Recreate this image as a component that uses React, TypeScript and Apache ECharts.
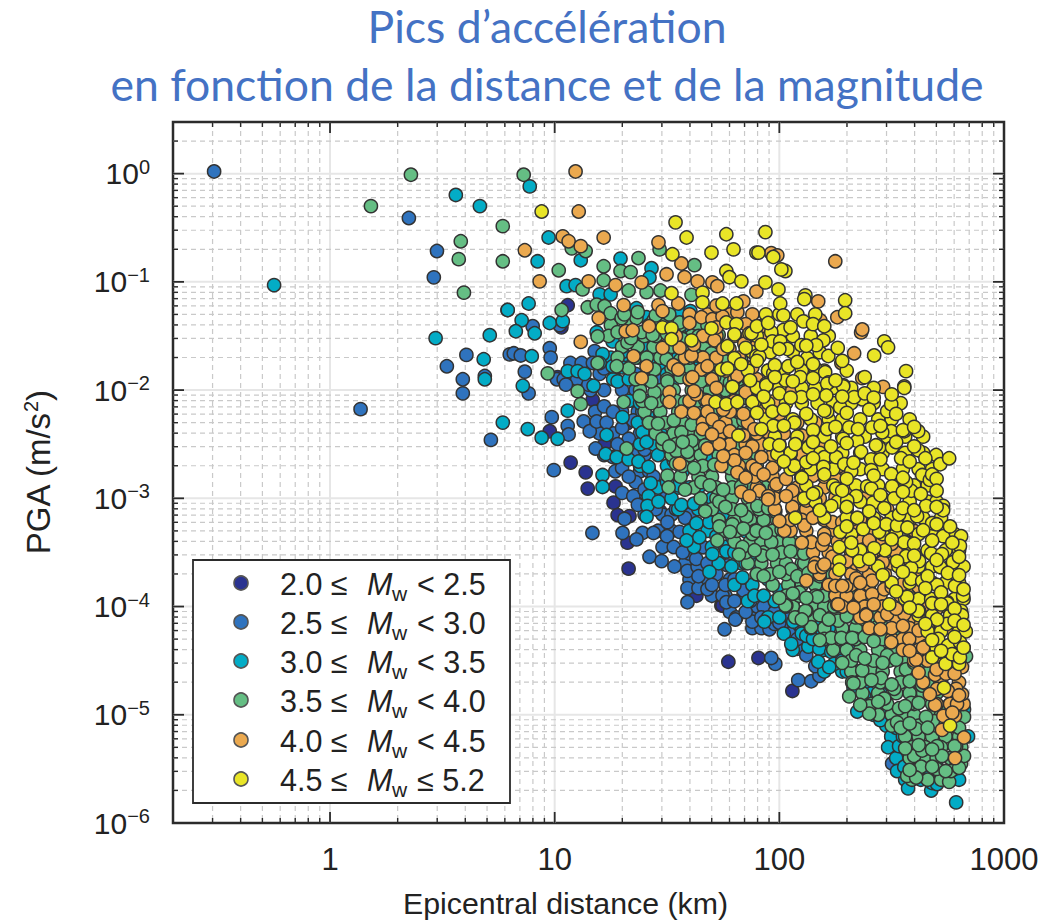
import React, { useEffect, useRef } from "react";
import * as echarts from "echarts";

type P = [number, number];
type Row = [number, number[]];
// Points as [log10(distance km), log10(PGA m/s2)]
const mw20to25: P[] = [[.978,-2.38],[1.071,-2.67],[1.138,-2.76],[1.147,-2.91],[1.271,-2.89],[1.262,-3.04],[1.28,-3.155],[1.329,-3.65],[1.169,-2.09],[1.222,-2.5],[1.333,-3.165],[1.324,-3.41],[1.32,-2.31],[1.742,-3.99],[1.631,-3.9],[1.773,-4.51],[1.907,-4.475],[2.058,-4.78],[1.747,-3.99],[1.444,-1.65],[1.058,-1.216],[1.013,-1.88],[1.03,-1.42],[1.4,-1.62],[1.47,-3.12],[1.62,-3.53]];
const mw25to30: P[] = [[-.516,.02],[.351,-.41],[.476,-.715],[.462,-.958],[.607,-1.675],[.52,-1.78],[.591,-1.9],[.591,-2.03],[.689,-1.87],[.136,-2.176],[.8,-1.67],[.978,-1.613],[.982,-1.7],[.818,-1.66],[.849,-1.68],[.867,-1.83],[1.022,-1.4],[.902,-1.41],[1.178,-1.64],[1.01,-1.9],[1.04,-1.9],[.884,-2.03],[.987,-2.25],[1.058,-2.33],[1.062,-2.41],[.996,-2.74],[1.168,-3.32],[1.129,-2.29],[1.156,-2.38],[1.187,-2.29],[1.231,-2.3],[1.182,-2.54],[1.311,-3.19],[1.302,-3.32],[1.391,-3.32],[1.44,-3.32],[1.364,-3.38],[1.422,-3.54],[1.476,-3.58],[1.533,-3.63],[1.591,-3.67],[1.591,-3.83],[1.64,-3.83],[1.591,-3.96],[1.68,-3.84],[1.747,-3.9],[1.809,-4.1],[1.502,-3.22],[1.556,-3.31],[1.6,-3.51],[1.636,-3.63],[.716,-2.46],[1.804,-4.12],[1.756,-4.21],[1.88,-4.14],[1.956,-4.21],[1.978,-4.16],[2.044,-4.25],[1.982,-4.53],[1.964,-4.475],[2.084,-4.68],[2.142,-4.69],[2.178,-4.64],[2.502,-5.45],[1.764,-3.96],[1.902,-4.0],[2.08,-4.39],[1.1,-1.9],[1.15,-1.95],[1.2,-1.85],[1.05,-1.95],[1.17,-1.75],[1.22,-1.8],[1.27,-1.9],[1.3,-2.0],[1.33,-2.1],[1.22,-2.15],[1.26,-2.2],[1.3,-2.35],[1.35,-2.28],[1.39,-2.2],[1.33,-2.45],[1.28,-2.5],[1.26,-2.62],[1.3,-2.72],[1.36,-2.6],[1.4,-2.55],[1.36,-2.85],[1.33,-2.8],[1.35,-2.98],[1.4,-2.92],[1.44,-2.8],[1.37,-3.06],[1.45,-3.1],[1.5,-2.95],[1.54,-3.1],[1.58,-3.18],[1.5,-3.35],[1.53,-3.45],[1.57,-3.5],[1.62,-3.4],[1.66,-3.45],[1.63,-3.56],[1.68,-3.6],[1.72,-3.7],[1.77,-3.62],[1.64,-3.72],[1.7,-3.8],[1.76,-3.8],[1.8,-3.75],[1.84,-3.85],[1.8,-3.95],[1.87,-3.95],[1.93,-4.0],[1.98,-4.05],[1.92,-4.1],[2.0,-4.15],[2.05,-4.1],[2.1,-4.2],[2.08,-4.3],[2.12,-4.45],[2.16,-4.55],[1.85,-4.05],[1.44,-1.72],[1.4,-1.65],[1.36,-1.85],[1.48,-1.9]];
const mw25to30Rows: Row[] = [[-1.75,[1.07,1.12,1.32]],[-2.0,[1.16,1.22,1.36]],[-2.2,[1.18,1.3,1.37]],[-2.4,[1.2,1.26,1.38]],[-2.6,[1.22,1.32,1.4]],[-2.75,[1.27,1.38,1.42]],[-2.95,[1.3,1.4,1.46]],[-3.15,[1.4,1.48,1.52,1.6]],[-3.3,[1.46,1.52,1.6]],[-3.45,[1.48,1.6,1.66]],[-3.6,[1.58,1.7,1.74]],[-3.75,[1.6,1.68,1.78]],[-3.9,[1.7,1.76,1.84]],[-4.05,[1.78,1.9,1.95]],[-4.2,[1.88,1.92,2.02]]];
const mw30to35: P[] = [[-.249,-1.03],[.56,-.197],[.667,-.3],[.79,-1.26],[.711,-1.493],[.47,-1.52],[.684,-1.715],[.689,-1.9],[.889,-.118],[.973,-.59],[.924,-.81],[1.116,-.8],[1.293,-.785],[1.431,-.874],[1.422,-.96],[1.053,-1.04],[1.093,-1.03],[1.2,-1.115],[1.249,-1.115],[.884,-1.2],[.791,-1.26],[.853,-1.355],[.827,-1.456],[.911,-1.475],[.978,-1.38],[1.036,-1.363],[.898,-1.687],[1.213,-1.668],[1.302,-1.687],[1.258,-1.55],[1.187,-1.466],[1.364,-1.244],[1.409,-1.327],[1.564,-1.28],[1.604,-1.27],[1.387,-1.595],[1.587,-1.456],[1.609,-1.44],[1.302,-1.79],[1.258,-1.78],[1.058,-1.825],[1.102,-1.825],[1.133,-1.85],[.858,-1.96],[1.28,-1.92],[.769,-2.3],[.88,-2.36],[.942,-2.44],[1.013,-2.45],[1.058,-2.19],[1.173,-1.96],[1.231,-2.415],[1.227,-2.59],[1.276,-2.62],[1.302,-2.25],[1.213,-2.785],[1.213,-2.895],[1.329,-2.64],[1.373,-2.66],[1.418,-2.71],[1.427,-2.86],[1.418,-2.98],[1.413,-3.07],[1.409,-3.17],[1.462,-3.03],[1.391,-2.39],[1.409,-2.48],[1.413,-2.24],[1.52,-3.0],[1.564,-3.06],[1.551,-2.88],[1.631,-3.23],[1.587,-3.39],[1.644,-3.36],[1.702,-3.515],[1.764,-3.49],[1.689,-3.68],[1.787,-3.63],[1.836,-3.73],[1.889,-3.9],[1.791,-3.36],[1.853,-3.31],[1.689,-3.22],[1.933,-4.14],[2.062,-4.14],[2.053,-4.345],[2.129,-4.37],[2.178,-4.39],[2.231,-4.42],[2.267,-4.42],[2.173,-4.51],[2.244,-4.53],[2.222,-4.56],[2.12,-4.27],[2.178,-4.27],[2.347,-4.97],[2.378,-4.83],[2.476,-4.96],[2.476,-5.1],[2.498,-5.2],[2.484,-5.3],[2.533,-5.29],[2.524,-5.52],[2.556,-5.48],[2.573,-5.68],[2.676,-5.7],[2.68,-5.63],[2.702,-5.64],[2.698,-5.45],[2.787,-5.81],[2.591,-5.04],[2.711,-5.53],[2.822,-4.95],[1.2,-1.75],[1.3,-1.65],[1.37,-1.7],[1.33,-1.9],[1.42,-1.5],[1.47,-1.6],[1.5,-1.4],[1.55,-1.5],[1.6,-1.6],[1.55,-1.7],[1.48,-1.75],[1.5,-1.85],[1.58,-1.85],[1.45,-2.0],[1.38,-2.12],[1.42,-2.3],[1.47,-2.4],[1.5,-2.55],[1.46,-2.6],[1.53,-2.65],[1.5,-2.85],[1.57,-2.75],[1.6,-2.9],[1.62,-3.05],[1.67,-3.1],[1.7,-3.0],[1.75,-3.15],[1.72,-3.35],[1.78,-3.25],[1.8,-3.5],[1.85,-3.6],[1.88,-3.5],[1.9,-3.7],[1.95,-3.75],[1.93,-3.9],[2.0,-3.85],[2.03,-4.0],[2.08,-4.05],[2.12,-4.1],[2.18,-4.15],[2.22,-4.2],[2.15,-4.3],[2.25,-4.3],[2.28,-4.5],[2.3,-4.6],[2.33,-4.75],[2.38,-4.7],[2.42,-4.9],[2.45,-5.05],[2.5,-5.0],[2.52,-5.12],[2.55,-5.2],[2.58,-5.35],[2.6,-5.5],[2.63,-5.6],[2.66,-5.5],[2.7,-5.4],[2.74,-5.2],[2.78,-5.55],[2.8,-5.6],[2.84,-5.2],[1.65,-1.75],[1.7,-1.9],[1.62,-2.1],[1.65,-2.3],[1.68,-2.6]];
const mw30to35Rows: Row[] = [[-1.7,[1.25,1.34,1.43,1.6]],[-1.9,[1.26,1.4,1.53]],[-2.1,[1.33,1.42,1.52]],[-2.3,[1.37,1.45,1.55]],[-2.5,[1.38,1.44,1.55]],[-2.7,[1.38,1.5,1.6]],[-2.9,[1.46,1.55,1.64]],[-3.1,[1.55,1.64,1.72]],[-3.3,[1.6,1.68,1.76]],[-3.45,[1.62,1.7,1.76]],[-3.6,[1.73,1.83,1.9]],[-3.8,[1.8,1.88,1.97]],[-3.95,[1.86,1.98,2.06]],[-4.1,[1.95,2.0,2.15,2.25]],[-4.25,[2.02,2.1,2.3]],[-4.4,[2.06,2.2,2.32]],[-4.6,[2.2,2.28,2.35]],[-4.8,[2.4,2.45]],[-5.0,[2.42,2.52]],[-5.2,[2.5,2.54]],[-5.4,[2.52,2.6]],[-5.6,[2.56,2.66]]];
const mw35to40: P[] = [[.36,-.01],[.182,-.3],[.769,-.485],[.582,-.625],[.573,-.79],[.769,-.81],[.596,-1.1],[.862,-.01],[1.018,-.893],[1.076,-.69],[1.138,-.715],[1.218,-.856],[1.218,-.985],[1.293,-.9],[1.338,-.91],[1.373,-.78],[1.124,-1.07],[1.329,-1.08],[1.409,-1.095],[1.471,-1.08],[1.467,-.7],[1.622,-.846],[1.609,-1.12],[1.031,-1.26],[1.147,-1.235],[1.187,-1.21],[1.222,-1.225],[1.249,-1.29],[1.298,-1.335],[1.364,-1.335],[1.44,-1.355],[1.191,-1.505],[1.28,-1.465],[1.324,-1.56],[1.387,-1.465],[1.436,-1.49],[1.556,-1.375],[1.191,-1.75],[1.276,-1.78],[.969,-1.845],[1.444,-1.81],[1.498,-1.715],[1.502,-1.92],[1.698,-1.66],[1.102,-2.01],[1.116,-2.13],[1.307,-2.11],[1.378,-2.055],[1.444,-2.02],[1.32,-2.54],[1.48,-2.45],[1.564,-2.39],[1.609,-2.47],[1.502,-2.79],[1.507,-2.9],[1.653,-2.85],[1.542,-2.565],[1.591,-2.57],[1.733,-3.03],[1.733,-3.26],[1.791,-3.24],[1.724,-3.39],[1.853,-3.17],[1.88,-3.33],[1.836,-3.45],[1.902,-3.07],[1.982,-3.12],[1.898,-3.3],[1.924,-3.53],[1.964,-3.405],[2.044,-3.405],[2.053,-3.655],[2.111,-3.6],[2.169,-3.91],[2.089,-3.87],[2.12,-4.04],[2.031,-3.99],[2.244,-4.0],[2.311,-4.02],[2.378,-3.93],[2.027,-3.99],[2.116,-4.04],[2.142,-4.19],[2.262,-4.13],[2.32,-4.0],[2.231,-4.29],[2.276,-4.29],[2.324,-4.29],[2.436,-4.19],[2.342,-4.45],[2.48,-4.45],[2.369,-4.59],[2.324,-4.7],[2.453,-4.66],[2.564,-4.58],[2.511,-4.76],[2.636,-4.73],[2.311,-4.83],[2.467,-4.85],[2.587,-4.89],[2.4,-4.92],[2.4,-4.99],[2.533,-4.94],[2.524,-5.07],[2.609,-5.13],[2.689,-5.06],[2.702,-5.29],[2.6,-5.38],[2.636,-5.33],[2.631,-5.48],[2.569,-5.565],[2.609,-5.58],[2.756,-5.62],[2.764,-5.52],[2.809,-5.45],[2.822,-5.38],[2.724,-5.38],[2.822,-5.02],[2.787,-5.29],[2.831,-4.46],[2.653,-5.02],
[1.31,-1.3],[1.37,-1.28],[1.45,-1.31],[1.51,-1.3],[1.6,-1.33],[1.34,-1.52],[1.5,-1.48],[1.57,-1.53],[1.64,-1.5],[1.73,-1.49],[1.41,-1.7],[1.56,-1.72],[1.63,-1.68],[1.7,-1.73],[1.76,-1.69],[1.83,-1.72],[1.43,-1.92],[1.56,-1.88],[1.65,-1.92],[1.71,-1.88],[1.78,-1.93],[1.86,-1.89],[1.43,-2.12],[1.5,-2.08],[1.58,-2.11],[1.67,-2.09],[1.76,-2.12],[1.86,-2.08],[1.46,-2.31],[1.53,-2.28],[1.61,-2.32],[1.69,-2.29],[1.79,-2.31],[1.84,-2.28],[1.51,-2.52],[1.57,-2.48],[1.67,-2.51],[1.74,-2.48],[1.82,-2.52],[1.54,-2.68],[1.62,-2.72],[1.71,-2.69],[1.78,-2.72],[1.86,-2.68],[1.58,-2.92],[1.69,-2.88],[1.75,-2.92],[1.83,-2.89],[1.91,-2.92],[1.67,-3.12],[1.76,-3.08],[1.83,-3.11],[1.95,-3.09],[1.78,-3.31],[1.84,-3.28],[1.94,-3.32],[2.01,-3.29],[1.82,-3.52],[1.89,-3.48],[1.97,-3.52],[2.05,-3.49],[2.11,-3.51],[1.93,-3.72],[2.0,-3.68],[2.08,-3.72],[2.13,-3.69],[2.18,-3.72],[2.0,-3.92],[2.06,-3.88],[2.12,-3.92],[2.25,-3.89],[2.3,-3.92],[2.1,-4.12],[2.18,-4.08],[2.22,-4.12],[2.3,-4.09],[2.38,-4.12],[2.18,-4.31],[2.38,-4.28],[2.42,-4.32],[2.52,-4.29],[2.28,-4.52],[2.38,-4.48],[2.46,-4.52],[2.52,-4.49],[2.6,-4.52],[2.33,-4.71],[2.41,-4.68],[2.5,-4.72],[2.58,-4.69],[2.66,-4.72],[2.36,-4.91],[2.44,-4.88],[2.56,-4.92],[2.62,-4.89],[2.75,-4.92],[2.54,-5.12],[2.58,-5.08],[2.66,-5.12],[2.74,-5.09],[2.8,-5.12],[2.56,-5.31],[2.62,-5.28],[2.68,-5.32],[2.78,-5.29],[2.58,-5.51],[2.68,-5.48],[2.74,-5.52],[2.8,-5.49]];
const mw35to40Rows: Row[] = [[-1.4,[1.25,1.33,1.42,1.48,1.56,1.63,1.68]],[-1.6,[1.3,1.37,1.44,1.52,1.6,1.67,1.74]],[-1.8,[1.33,1.52,1.6,1.66,1.74,1.81]],[-2.0,[1.38,1.47,1.53,1.61,1.69,1.76,1.83]],[-2.2,[1.4,1.47,1.55,1.63,1.71,1.8,1.87]],[-2.4,[1.45,1.53,1.6,1.65,1.72,1.79,1.86]],[-2.6,[1.52,1.6,1.65,1.73,1.8,1.88]],[-2.8,[1.56,1.64,1.7,1.79,1.84,1.92]],[-3.0,[1.65,1.72,1.79,1.86,1.94]],[-3.2,[1.73,1.8,1.87,1.93,1.99]],[-3.4,[1.8,1.87,1.92,1.99,2.06]],[-3.6,[1.86,1.92,1.99,2.03,2.1,2.16]],[-3.8,[1.97,2.04,2.1,2.16,2.22,2.26]],[-4.0,[2.06,2.15,2.2,2.27,2.35]],[-4.2,[2.14,2.2,2.28,2.34,2.41,2.47]],[-4.4,[2.24,2.3,2.36,2.44,2.5,2.57]],[-4.6,[2.32,2.41,2.46,2.54,2.6,2.66]],[-4.8,[2.37,2.44,2.52,2.58,2.64,2.7]],[-5.0,[2.44,2.5,2.56,2.6,2.68,2.72,2.78]],[-5.2,[2.56,2.62,2.68,2.74,2.8]],[-5.4,[2.58,2.65,2.7,2.76]],[-5.6,[2.59,2.66,2.72]],
[-1.5,[1.24,1.4,1.45,1.53,1.61,1.68]],[-1.7,[1.28,1.36,1.47,1.6,1.66,1.79]],[-1.9,[1.36,1.5,1.6,1.68,1.75,1.82]],[-2.1,[1.39,1.46,1.54,1.63,1.72,1.81]],[-2.3,[1.42,1.49,1.57,1.65,1.74,1.82]],[-2.5,[1.48,1.54,1.62,1.7,1.78,1.86]],[-2.7,[1.57,1.66,1.75,1.82,1.9]],[-2.9,[1.62,1.72,1.79,1.87,1.94]],[-3.1,[1.7,1.79,1.87,1.91,1.98]],[-3.3,[1.76,1.81,1.89,1.97,2.04]],[-3.5,[1.85,1.93,2.01,2.08]],[-3.7,[1.9,1.96,2.03,2.1,2.15,2.21]],[-3.9,[2.03,2.09,2.16,2.2,2.27,2.33]],[-4.1,[2.07,2.14,2.26,2.34,2.43]],[-4.3,[2.2,2.27,2.34,2.46,2.56]],[-4.5,[2.32,2.42,2.49,2.56,2.64]],[-4.7,[2.36,2.45,2.54,2.62,2.7]],[-4.9,[2.41,2.48,2.6,2.68,2.79]],[-5.1,[2.5,2.62,2.7,2.77]],[-5.3,[2.59,2.65,2.72,2.81]],[-5.5,[2.62,2.7,2.78]]];
const mw40to45: P[] = [[1.093,.02],[1.107,-.35],[1.036,-.58],[1.062,-.625],[1.116,-.67],[.867,-.708],[.933,-.995],[1.218,-.59],[1.462,-.635],[1.151,-.995],[1.271,-1.03],[1.387,-1.005],[1.307,-1.215],[1.196,-1.335],[1.116,-1.555],[1.316,-1.456],[1.347,-1.447],[1.351,-1.687],[1.409,-1.78],[1.387,-1.89],[1.462,-1.215],[1.48,-1.27],[1.498,-.93],[1.564,-.83],[1.578,-.957],[1.636,-.995],[1.702,-1.005],[1.724,-1.04],[1.653,-1.327],[1.556,-1.61],[1.609,-1.68],[1.529,-1.77],[1.653,-1.81],[1.613,-1.88],[1.711,-1.54],[1.844,-1.57],[1.898,-1.09],[1.702,-1.345],[1.747,-1.32],[1.813,-1.28],[1.778,-1.62],[1.813,-1.87],[1.858,-1.79],[2.249,-.81],[1.964,-.735],[1.991,-.755],[2.173,-1.18],[2.258,-1.327],[2.182,-1.355],[2.364,-1.467],[2.369,-1.44],[2.333,-1.66],[2.276,-1.75],[2.369,-1.89],[2.462,-1.97],[1.889,-2.36],[1.88,-2.52],[1.898,-2.73],[1.969,-2.72],[1.987,-2.87],[1.911,-2.93],[1.951,-2.98],[2.058,-2.93],[2.058,-3.08],[2.182,-3.13],[2.111,-3.25],[2.022,-3.3],[2.142,-3.405],[2.191,-3.43],[2.2,-3.33],[2.236,-3.54],[2.156,-3.635],[2.191,-3.635],[2.12,-3.76],[2.249,-3.81],[2.298,-3.81],[2.342,-3.74],[2.413,-3.76],[2.413,-3.885],[2.467,-3.84],[2.258,-3.98],[2.387,-4.07],[2.413,-3.56],[2.458,-3.58],[2.578,-3.07],[2.378,-3.47],[2.236,-3.22],[2.298,-3.22],[2.591,-4.02],[2.262,-3.98],[2.387,-4.08],[2.48,-4.07],[2.556,-4.07],[2.498,-4.33],[2.578,-4.3],[2.631,-4.16],[2.609,-4.49],[2.653,-4.365],[2.711,-4.455],[2.693,-4.63],[2.742,-4.62],[2.813,-4.56],[2.702,-4.76],[2.813,-4.81],[2.787,-4.76],[2.693,-4.91],[2.791,-4.9],[2.782,-5.01],[2.724,-5.14],[2.822,-5.21],[2.782,-5.4],[1.556,-2.68],[1.511,-2.02],[1.511,-2.11],[1.564,-2.2],[1.631,-2.04],[1.702,-2.27],[1.658,-2.36],[1.733,-2.34],[1.68,-2.54],[1.733,-2.5],[1.742,-2.7],[1.8,-2.65],[1.813,-2.76],[1.831,-2.94],[1.867,-2.98],
[1.55,-1.2],[1.72,-1.22],[1.84,-1.18],[1.42,-1.41],[1.6,-1.38],[1.72,-1.42],[1.85,-1.39],[1.92,-1.41],[1.48,-1.61],[1.62,-1.58],[1.75,-1.62],[1.9,-1.59],[1.55,-1.81],[1.68,-1.78],[1.76,-1.82],[1.88,-1.79],[1.95,-1.82],[1.62,-2.01],[1.72,-1.98],[1.85,-2.02],[1.93,-1.99],[2.05,-2.02],[1.62,-2.21],[1.75,-2.18],[1.84,-2.22],[1.92,-2.19],[2.0,-2.22],[1.7,-2.41],[1.78,-2.38],[1.84,-2.42],[1.95,-2.39],[2.1,-2.42],[1.75,-2.61],[1.85,-2.58],[1.92,-2.62],[2.05,-2.59],[2.15,-2.62],[1.85,-2.81],[1.93,-2.78],[2.03,-2.82],[2.15,-2.79],[2.25,-2.82],[1.95,-3.01],[2.03,-2.98],[2.12,-3.02],[2.25,-2.99],[2.3,-3.02],[2.0,-3.21],[2.15,-3.18],[2.28,-3.22],[2.36,-3.19],[2.44,-3.22],[2.1,-3.41],[2.2,-3.38],[2.3,-3.42],[2.4,-3.39],[2.5,-3.42],[2.2,-3.61],[2.3,-3.58],[2.37,-3.62],[2.46,-3.59],[2.55,-3.62],[2.28,-3.81],[2.36,-3.78],[2.5,-3.82],[2.55,-3.79],[2.62,-3.82],[2.33,-4.01],[2.42,-3.98],[2.52,-4.02],[2.6,-3.99],[2.7,-4.02],[2.45,-4.21],[2.55,-4.18],[2.62,-4.22],[2.72,-4.19],[2.8,-4.22],[2.58,-4.41],[2.64,-4.38],[2.72,-4.42],[2.78,-4.39],[2.62,-4.61],[2.7,-4.58],[2.78,-4.62],[2.67,-4.81],[2.75,-4.78],[2.8,-4.82],[2.73,-5.01],[2.77,-4.98]];
const mw40to45Rows: Row[] = [[-1.3,[1.6,1.68,1.78,1.88]],[-1.5,[1.54,1.66,1.72,1.8,1.86,1.95]],[-1.7,[1.58,1.66,1.72,1.82,1.9]],[-1.9,[1.6,1.7,1.8,1.9,2.0]],[-2.1,[1.6,1.68,1.8,1.88,1.98]],[-2.3,[1.66,1.76,1.86,1.97,2.08,2.16]],[-2.5,[1.78,1.85,1.92,2.0,2.12,2.2]],[-2.7,[1.82,1.88,1.98,2.08,2.2,2.28]],[-2.9,[1.9,1.98,2.08,2.2,2.32,2.42]],[-3.1,[1.98,2.06,2.12,2.2,2.3,2.4,2.48,2.56]],[-3.3,[2.05,2.12,2.25,2.34,2.42,2.5,2.6]],[-3.5,[2.15,2.22,2.32,2.44,2.52,2.6]],[-3.7,[2.18,2.25,2.32,2.4,2.47,2.6]],[-3.9,[2.25,2.3,2.36,2.45,2.54,2.62,2.72]],[-4.1,[2.36,2.45,2.52,2.6,2.68,2.76]],[-4.3,[2.5,2.55,2.63,2.7,2.78]],[-4.5,[2.6,2.66,2.74,2.8]],[-4.7,[2.64,2.72,2.8]],[-4.9,[2.7,2.76,2.82]],
[-2.2,[1.68,1.78,1.96]],[-2.4,[1.74,1.9,2.02]],[-2.6,[1.8,1.97,2.1,2.18]],[-2.8,[1.89,1.97,2.1,2.2,2.3]],[-3.0,[1.98,2.08,2.18,2.28,2.38,2.46]],[-3.2,[2.05,2.1,2.2,2.32,2.4,2.5,2.58]],[-3.4,[2.14,2.26,2.36,2.46,2.56]],[-3.6,[2.16,2.25,2.34,2.42,2.5,2.58]],[-3.8,[2.22,2.32,2.4,2.48,2.58]],[-4.0,[2.28,2.38,2.46,2.56,2.64,2.74]],[-4.2,[2.4,2.5,2.58,2.66,2.76]],[-4.4,[2.55,2.62,2.7,2.76]]];
const mw45to52: P[] = [[.942,-.35],[1.538,-.45],[1.587,-.59],[1.764,-.56],[1.698,-.73],[1.796,-.7],[1.898,-.73],[1.524,-.745],[1.764,-.9],[1.778,-.957],[1.831,-.995],[1.52,-1.105],[1.658,-1.1],[1.658,-1.19],[1.747,-1.2],[1.809,-1.2],[1.48,-1.42],[1.52,-1.43],[1.52,-1.53],[1.698,-1.43],[1.764,-1.375],[1.809,-1.39],[1.8,-1.485],[1.867,-1.475],[1.609,-1.54],[1.769,-1.595],[1.8,-1.705],[1.742,-1.81],[1.769,-1.8],[1.898,-1.685],[1.791,-1.97],[1.938,-.54],[1.907,-.73],[1.973,-.77],[2.027,-.9],[2.009,-.885],[1.938,-1.005],[1.996,-1.07],[2.116,-1.125],[2.111,-1.16],[2.293,-1.17],[2.293,-1.29],[2.004,-1.2],[2.018,-1.31],[2.107,-1.365],[2.018,-1.445],[1.964,-1.465],[1.876,-1.475],[1.969,-1.55],[2.004,-1.55],[2.098,-1.585],[2.036,-1.62],[2.196,-1.54],[2.164,-1.585],[2.467,-1.55],[2.484,-1.605],[2.422,-1.68],[2.564,-1.825],[2.556,-1.965],[2.218,-1.685],[2.124,-1.705],[1.911,-1.69],[2.04,-1.78],[2.16,-1.8],[2.204,-1.835],[1.973,-1.845],[2.093,-1.88],[2.027,-1.91],[2.218,-1.93],[1.942,-1.94],[2.284,-1.955],[2.556,-1.98],[2.284,-1.965],[2.213,-1.94],[2.209,-2.05],[2.098,-2.065],[1.942,-1.955],[1.889,-2.11],[1.969,-2.2],[2.067,-2.3],[2.213,-2.2],[2.271,-2.16],[2.369,-2.085],[2.333,-2.065],[2.48,-2.195],[2.498,-2.13],[2.618,-2.38],[2.498,-2.38],[2.458,-2.39],[2.556,-2.38],[2.413,-2.345],[2.311,-2.345],[2.213,-2.36],[1.973,-2.33],[1.956,-2.5],[1.991,-2.59],[2.071,-2.5],[2.129,-2.53],[2.067,-2.7],[2.12,-2.665],[2.2,-2.62],[2.253,-2.62],[2.196,-2.71],[2.284,-2.45],[2.347,-2.47],[2.364,-2.57],[2.444,-2.53],[2.502,-2.53],[2.618,-2.555],[2.698,-2.6],[2.716,-2.685],[2.756,-2.63],[2.542,-2.63],[2.409,-2.64],[2.498,-2.775],[2.409,-2.74],[2.289,-2.685],[2.32,-2.75],[2.098,-2.805],[2.164,-2.945],[2.253,-2.91],[2.391,-2.89],[2.409,-2.91],[2.502,-2.89],[2.587,-2.93],[2.636,-2.785],[2.67,-2.83],[2.564,-2.85],[2.511,-3.0],[2.418,-3.04],[2.467,-3.09],[2.653,-3.07],[2.729,-3.07],[2.729,-3.11],[2.342,-2.98],[2.302,-3.02],[2.231,-3.07],[2.111,-3.0],[2.071,-3.18],[2.347,-3.18],[2.373,-3.285],[2.444,-3.31],[2.476,-3.24],[2.524,-3.25],[2.533,-3.15],[2.613,-3.165],[2.68,-3.23],[2.64,-3.295],[2.729,-3.35],[2.809,-3.35],[2.804,-3.44],[2.556,-3.405],[2.271,-3.31],[2.267,-3.45],[2.324,-3.48],[2.422,-3.46],[2.676,-3.51],[2.564,-3.535],[2.524,-3.58],[2.622,-3.58],[2.724,-3.515],[2.773,-3.59],[2.716,-3.635],[2.267,-3.58],[2.267,-3.66],[2.356,-3.58],[2.587,-3.645],[2.587,-3.745],[2.636,-3.765],[2.702,-3.8],[2.782,-3.81],[2.818,-3.9],[2.747,-3.96],[2.676,-3.93],[2.569,-3.91],[2.489,-3.98],[2.622,-4.04],[2.809,-4.04],[2.618,-4.04],[2.747,-3.97],[2.68,-3.97],[2.813,-4.08],[2.747,-4.16],[2.702,-4.12],[2.707,-4.3],[2.751,-4.36],[2.804,-4.33],[2.769,-4.44],[2.804,-4.47],[2.68,-4.47],[2.733,-4.75],[2.76,-5.1],[1.716,-2.11],[1.764,-2.13],[1.813,-2.11],[1.88,-2.11],[1.791,-1.97],[1.818,-2.42],
[1.9,-1.41],[1.95,-1.38],[2.05,-1.42],[2.15,-1.39],[2.2,-1.41],[1.85,-1.61],[1.92,-1.58],[2.0,-1.62],[2.12,-1.59],[2.26,-1.61],[1.83,-1.76],[1.9,-1.73],[1.98,-1.77],[2.08,-1.74],[2.15,-1.76],[2.28,-1.73],[1.87,-1.91],[1.98,-1.88],[2.06,-1.92],[2.15,-1.89],[2.25,-1.91],[2.38,-1.88],[1.93,-2.06],[2.0,-2.03],[2.05,-2.07],[2.15,-2.04],[2.28,-2.06],[2.38,-2.03],[2.42,-2.07],[2.5,-2.04],[1.9,-2.21],[2.02,-2.18],[2.12,-2.22],[2.2,-2.19],[2.3,-2.21],[2.4,-2.18],[2.52,-2.22],[1.92,-2.36],[2.02,-2.33],[2.15,-2.37],[2.25,-2.34],[2.35,-2.36],[2.45,-2.33],[2.55,-2.37],[2.6,-2.34],[2.0,-2.51],[2.15,-2.48],[2.23,-2.52],[2.3,-2.49],[2.43,-2.51],[2.52,-2.48],[2.6,-2.52],[2.02,-2.66],[2.15,-2.63],[2.33,-2.67],[2.45,-2.64],[2.58,-2.66],[2.65,-2.63],[2.1,-2.81],[2.2,-2.78],[2.3,-2.82],[2.42,-2.79],[2.55,-2.81],[2.68,-2.78],[2.7,-2.82],[2.15,-2.96],[2.28,-2.93],[2.45,-2.97],[2.55,-2.94],[2.63,-2.96],[2.7,-2.93],[2.18,-3.11],[2.3,-3.08],[2.4,-3.12],[2.55,-3.09],[2.6,-3.11],[2.7,-3.08],[2.3,-3.26],[2.42,-3.23],[2.57,-3.27],[2.7,-3.24],[2.76,-3.26],[2.32,-3.41],[2.5,-3.38],[2.6,-3.42],[2.68,-3.39],[2.77,-3.41],[2.4,-3.56],[2.6,-3.53],[2.7,-3.57],[2.8,-3.54],[2.46,-3.71],[2.55,-3.68],[2.66,-3.72],[2.75,-3.69],[2.8,-3.71],[2.52,-3.86],[2.65,-3.83],[2.72,-3.87],[2.82,-3.84],[2.58,-4.01],[2.72,-3.98],[2.78,-4.02],[2.65,-4.16],[2.78,-4.13],[2.82,-4.17],[2.68,-4.31],[2.78,-4.28],[2.72,-4.41],[2.82,-4.38]];
const mw45to52Rows: Row[] = [[-1.3,[1.94,2.0,2.08,2.16]],[-1.5,[1.9,1.98,2.06,2.14,2.22]],[-1.65,[1.88,1.96,2.06,2.18]],[-1.82,[1.86,1.95,2.02,2.1,2.2,2.3]],[-1.98,[1.9,2.0,2.1,2.16,2.24,2.32,2.42]],[-2.12,[1.95,2.03,2.1,2.17,2.24,2.32,2.42,2.54]],[-2.27,[1.94,2.06,2.14,2.22,2.28,2.36,2.44,2.5,2.58]],[-2.43,[1.98,2.08,2.2,2.28,2.38,2.48,2.56,2.64]],[-2.58,[2.05,2.18,2.28,2.36,2.46,2.56,2.64]],[-2.73,[2.05,2.14,2.24,2.36,2.46,2.55,2.62,2.68]],[-2.88,[2.12,2.24,2.34,2.44,2.52,2.6,2.66]],[-3.03,[2.16,2.26,2.36,2.46,2.58,2.66,2.7]],[-3.18,[2.2,2.3,2.42,2.5,2.58,2.64,2.72]],[-3.33,[2.32,2.46,2.52,2.62,2.68,2.75,2.78]],[-3.48,[2.36,2.47,2.58,2.66,2.74,2.8]],[-3.63,[2.44,2.53,2.62,2.68,2.76,2.82]],[-3.78,[2.5,2.58,2.68,2.74,2.8]],[-3.93,[2.56,2.62,2.7,2.78,2.82]],[-4.08,[2.62,2.68,2.76,2.8]],[-4.23,[2.66,2.72,2.8,2.83]],[-4.38,[2.7,2.76,2.82]],[-4.53,[2.74,2.8]]];

const fromRows = (rows: Row[]): P[] => rows.flatMap(([ly, xs]) => xs.map((lx) => [lx, ly] as P));

const seriesNames = ["2.0 ≤ Mw < 2.5", "2.5 ≤ Mw < 3.0", "3.0 ≤ Mw < 3.5", "3.5 ≤ Mw < 4.0", "4.0 ≤ Mw < 4.5", "4.5 ≤ Mw ≤ 5.2"];
const seriesPoints = [mw20to25, [...fromRows(mw25to30Rows), ...mw25to30], [...fromRows(mw30to35Rows), ...mw30to35], [...fromRows(mw35to40Rows), ...mw35to40], [...fromRows(mw40to45Rows), ...mw40to45], [...fromRows(mw45to52Rows), ...mw45to52]];
const seriesColors = ["#2A3390", "#2F73BE", "#03ACC6", "#65BE84", "#EBA94F", "#E9E527"];
const legendLow = ["2.0 ≤", "2.5 ≤", "3.0 ≤", "3.5 ≤", "4.0 ≤", "4.5 ≤"];
const legendHigh = ["< 2.5", "< 3.0", "< 3.5", "< 4.0", "< 4.5", "≤ 5.2"];
const legendRowY = [584, 623, 662, 701, 741, 780];

const xMajor = [1, 10, 100];
const xMinor = [0.3,0.4,0.5,0.6,0.7,0.8,0.9,2,3,4,5,6,7,8,9,20,30,40,50,60,70,80,90,200,300,400,500,600,700,800,900];
const yMajor = [1e-5,1e-4,1e-3,1e-2,1e-1,1];
const yMinor = [1,2,3,4,5,6,7,8,9].flatMap((m) => [1e-6,1e-5,1e-4,1e-3,1e-2,1e-1].map((d) => m * d)).filter((v) => Math.abs(Math.log10(v) - Math.round(Math.log10(v))) > 1e-6).concat([2]);

const FONT = "'Liberation Sans', Arial, sans-serif";
const INK = "#2b2b2b";

const isDecade = (v: number) => Math.abs(Math.log10(v) - Math.round(Math.log10(v))) < 1e-4;

function lineItem(params: any, api: any, vertical: boolean) {
  const v = api.value(0);
  const major = api.value(1) === 1;
  const r = params.coordSys;
  const p = api.coord(vertical ? [v, 1] : [1, v]);
  const tick = major ? 11 : 5;
  const grid = { stroke: major ? "#e6e6e6" : "#c9c9c9", lineWidth: major ? 2 : 1.2, lineDash: major ? undefined : [5, 4] };
  const ts = { stroke: INK, lineWidth: major ? 1.8 : 1.4 };
  const mk = (x1: number, y1: number, x2: number, y2: number, style: any) => ({ type: "line", shape: { x1, y1, x2, y2 }, style });
  if (vertical) {
    const x = p[0];
    return { type: "group", children: [
      mk(x, r.y, x, r.y + r.height, grid),
      mk(x, r.y, x, r.y + tick, ts),
      mk(x, r.y + r.height, x, r.y + r.height - tick, ts),
    ] };
  }
  const y = p[1];
  return { type: "group", children: [
    mk(r.x, y, r.x + r.width, y, grid),
    mk(r.x, y, r.x + tick, y, ts),
    mk(r.x + r.width, y, r.x + r.width - tick, y, ts),
  ] };
}

export default function App() {
  const ref = useRef<HTMLDivElement>(null);
  useEffect(() => {
    const chart = echarts.init(ref.current!, null, { renderer: "svg" });
    const legendGraphics: any[] = [
      { type: "rect", z: 100, shape: { x: 193, y: 560, width: 317, height: 243 }, style: { fill: "#fff", stroke: INK, lineWidth: 1.8 } },
    ];
    seriesNames.forEach((_, i) => {
      const y = legendRowY[i];
      const t = (x: number, text: string, extra: any = {}, dy = 0) => ({
        type: "text", z: 101, x, y: y + dy,
        style: { text, fill: "#222", font: `30.5px ${FONT}`, verticalAlign: "middle", ...extra },
      });
      legendGraphics.push(
        { type: "circle", z: 101, shape: { cx: 241, cy: y - 1, r: 7 }, style: { fill: seriesColors[i], stroke: "#555", lineWidth: 1.6 } },
        t(280, legendLow[i]),
        t(367, "M", { font: `italic 30.5px ${FONT}` }),
        t(392, "w", { font: `21px ${FONT}` }, 9),
        t(417, legendHigh[i]),
      );
    });
    chart.setOption({
      animation: false,
      backgroundColor: "#fff",
      title: [
        { text: "Pics d’accélération", left: 547, top: 3, padding: 0, textAlign: "center", textStyle: { fontFamily: "Lato", fontWeight: 400, fontSize: 44.5, color: "#4472C4" } },
        { text: "en fonction de la distance et de la magnitude", left: 547, top: 61, padding: 0, textAlign: "center", textStyle: { fontFamily: "Lato", fontWeight: 400, fontSize: 44.5, color: "#4472C4" } },
      ],
      grid: { left: 173, top: 122, width: 831, height: 702, show: true, backgroundColor: "#fff", borderColor: INK, borderWidth: 2.5 },
      xAxis: {
        type: "log", logBase: 10, min: 0.2, max: 1000,
        name: "Epicentral distance (km)", nameLocation: "middle", nameGap: 65,
        nameTextStyle: { fontFamily: FONT, fontSize: 30.3, color: "#222", padding: [0, 46, 0, 0] },
        axisLine: { show: false }, axisTick: { show: false }, splitLine: { show: false }, minorTick: { show: false },
        axisLabel: { fontFamily: FONT, fontSize: 31, color: "#222", margin: 21, showMinLabel: true, showMaxLabel: true,
          formatter: (v: number) => (isDecade(v) ? String(Math.round(v)) : "") },
      },
      yAxis: {
        type: "log", logBase: 10, min: 1e-6, max: 3,
        name: "PGA (m/s{s|2})", nameLocation: "middle", nameGap: 118,
        nameTextStyle: { fontFamily: FONT, fontSize: 33, color: "#222", rich: { s: { fontFamily: FONT, fontSize: 20, color: "#222", padding: [0, 0, 14, 0] } } },
        axisLine: { show: false }, axisTick: { show: false }, splitLine: { show: false }, minorTick: { show: false },
        axisLabel: { fontFamily: FONT, fontSize: 30, color: "#222", margin: 23,
          formatter: (v: number) => {
            if (!isDecade(v)) return "";
            const e = Math.round(Math.log10(v));
            return `10{s|${e < 0 ? "−" + -e : e}}`;
          },
          rich: { s: { fontFamily: FONT, fontSize: 20, color: "#222", padding: [0, 0, 14, 0] } },
        },
      },
      graphic: legendGraphics,
      tooltip: { show: false },
      series: [
        { type: "custom", silent: true, z: 1, renderItem: (p: any, a: any) => lineItem(p, a, true), encode: { x: 0 },
          data: [...xMinor.map((v) => [v, 0]), ...xMajor.map((v) => [v, 1])], dimensions: ["v", "m"], clip: false },
        { type: "custom", silent: true, z: 1, coordinateSystem: "cartesian2d", renderItem: (p: any, a: any) => lineItem(p, a, false), encode: { y: 0 },
          data: [...yMinor.map((v) => [v, 0]), ...yMajor.map((v) => [v, 1])], dimensions: ["v", "m"], clip: false },
        ...seriesNames.map((name, i) => ({
          type: "scatter", name, z: 2 + i, symbol: "circle", symbolSize: 13.2, silent: true, clip: false, large: false,
          itemStyle: { color: seriesColors[i], borderColor: "#333", borderWidth: 1.5, opacity: 1 },
          data: seriesPoints[i].map(([a, b]) => [Math.pow(10, a), Math.pow(10, b)]),
        })),
      ],
    });
    return () => chart.dispose();
  }, []);
  return <div ref={ref} style={{ position: "absolute", left: 0, top: 0, width: 1044, height: 923 }} />;
}
